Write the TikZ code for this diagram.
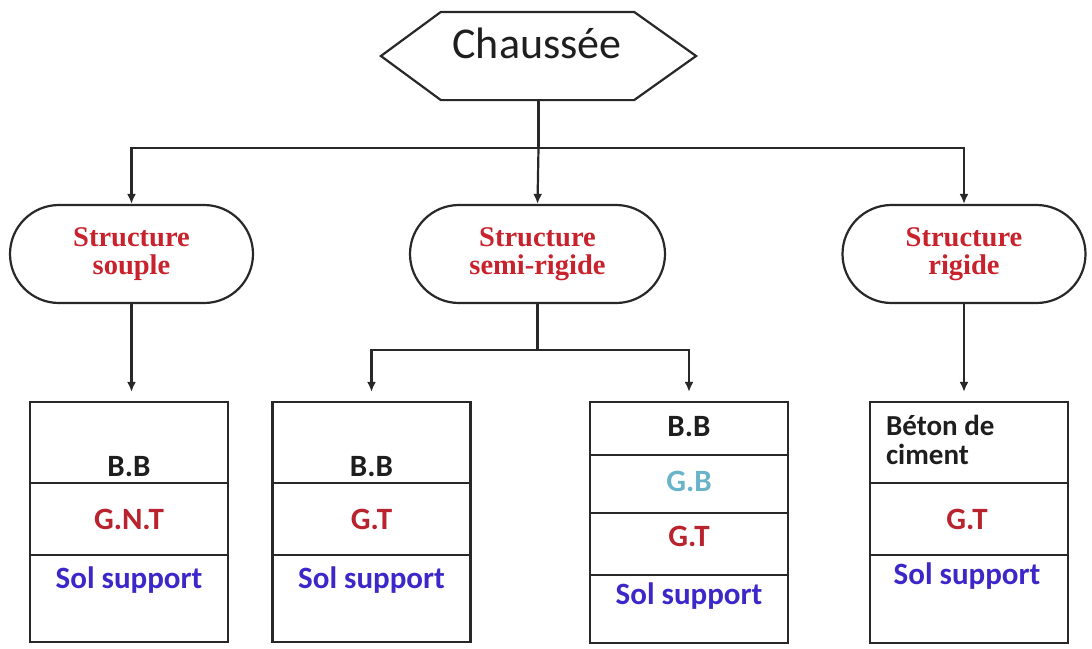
\documentclass[tikz,border=0pt]{standalone}
\usepackage{fontspec}
\setmainfont{Liberation Serif}
\newfontfamily\calfont{Carlito}
\usetikzlibrary{shapes.misc,arrows.meta,calc}
\definecolor{sred}{RGB}{200,35,45}
\definecolor{gred}{RGB}{185,35,45}
\definecolor{solblue}{RGB}{60,40,200}
\definecolor{gbteal}{RGB}{105,180,200}
\definecolor{bbk}{RGB}{30,30,30}
\definecolor{ln}{RGB}{40,40,40}
\begin{document}
\begin{tikzpicture}[x=1pt,y=-1pt,line width=2.2pt,draw=ln,
  stad/.style={draw,rounded rectangle,minimum width=243pt,minimum height=98pt,inner sep=0pt,align=center,text=sred,font=\bfseries\fontsize{28.5}{28}\selectfont},
  layerbox/.style={draw,rectangle,minimum width=198pt,minimum height=240pt,inner sep=0pt},
  lay/.style={anchor=base,inner sep=0pt,font=\calfont\bfseries\fontsize{31}{30}\selectfont},
  arr/.style={-{Latex[length=10pt,width=9pt]}}]
\useasboundingbox (0,0) rectangle (1092,648);
% top hexagon
\node[minimum width=313pt,minimum height=86pt,inner sep=0pt] (ch) at (538.5,56) {};
\draw (ch.west) -- ($(ch.north west)+(60,0)$) -- ($(ch.north east)+(-62,0)$) -- (ch.east)
  -- ($(ch.south east)+(-62,0)$) -- ($(ch.south west)+(60,0)$) -- cycle;
\node[inner sep=0pt,anchor=base,text=bbk,font=\calfont\fontsize{44}{48}\selectfont] (cht) at (537,58) {Chaussée};
% structures
\node[stad] (s1) at (131.5,254) {Structure\\souple};
\node[stad,minimum width=255pt] (s2) at (537.5,254) {Structure\\semi-rigide};
\node[stad] (s3) at (964,254) {Structure\\rigide};
\coordinate (j) at (ch.south |- 0,148);
\draw (ch.south) -- (j);
\draw[arr] (j) -| (s1.north);
\draw[arr] (j) -- (s2.north);
\draw[arr] (j) -| (s3.north);
% layer boxes
\node[layerbox] (b1) at (129,522) {};
\node[layerbox] (b2) at (371.5,522) {};
\node[layerbox,minimum height=241pt] (b3) at (689,522.5) {};
\node[layerbox,minimum height=241pt] (b4) at (969,522.5) {};
\draw[arr,shorten >=9pt] (s1.south) -- (s1.south |- b1.north);
\draw[arr,shorten >=9pt] (s3.south) -- (s3.south |- b4.north);
\coordinate (k) at (s2.south |- 0,350);
\draw (s2.south) -- (k);
\draw[arr,shorten >=9pt] (k) -| (b2.north);
\draw[arr,shorten >=9pt] (k) -| (b3.north);
% dividers
\foreach \b in {b1,b2,b4}{
  \draw (\b.west |- 0,483) -- (\b.east |- 0,483);
  \draw (\b.west |- 0,555) -- (\b.east |- 0,555);
}
\draw (b3.west |- 0,455) -- (b3.east |- 0,455);
\draw (b3.west |- 0,513) -- (b3.east |- 0,513);
\draw (b3.west |- 0,575) -- (b3.east |- 0,575);
% texts box 1
\node[lay,text=bbk] (t11) at (129,476) {B.B};
\node[lay,text=gred] (t12) at (129,529) {G.N.T};
\node[lay,text=solblue] (t13) at (129,588) {Sol support};
% box 2
\node[lay,text=bbk] (t21) at (371.5,476) {B.B};
\node[lay,text=gred] (t22) at (371.5,529) {G.T};
\node[lay,text=solblue] (t23) at (371.5,588) {Sol support};
% box 3
\node[lay,text=bbk] (t31) at (689,436) {B.B};
\node[lay,text=gbteal] (t32) at (689,491) {G.B};
\node[lay,text=gred] (t33) at (689,546) {G.T};
\node[lay,text=solblue] (t34) at (689,604) {Sol support};
% box 4
\node[lay,anchor=base west,text=bbk,font=\calfont\bfseries\fontsize{29}{30}\selectfont] (t41) at (885,435) {Béton de};
\node[lay,anchor=base west,text=bbk,font=\calfont\bfseries\fontsize{29}{30}\selectfont] (t42) at (885,464) {ciment};
\node[lay,text=gred] (t43) at (967,529) {G.T};
\node[lay,text=solblue] (t44) at (967,584) {Sol support};
\end{tikzpicture}
\end{document}
